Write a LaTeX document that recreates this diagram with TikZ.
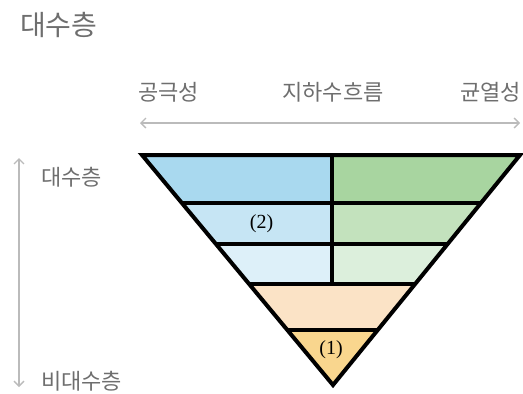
\documentclass[tikz,border=0pt]{standalone}
\usepackage{fontspec}
\newfontfamily\kr{Noto Sans CJK KR}
\setmainfont{Liberation Serif}
\usetikzlibrary{calc,arrows.meta}
\definecolor{txtgray}{HTML}{6E6E6E}
\definecolor{arrgray}{HTML}{BBBBBB}
\definecolor{b1}{HTML}{A9D9EF}
\definecolor{g1}{HTML}{A8D5A0}
\definecolor{b2}{HTML}{C6E5F4}
\definecolor{g2}{HTML}{C3E2BD}
\definecolor{b3}{HTML}{DDF0F9}
\definecolor{g3}{HTML}{DCEFDC}
\definecolor{or1}{HTML}{FBE3C6}
\definecolor{ye1}{HTML}{F9D68E}
\tikzset{
  lbl/.style={font=\kr\fontsize{22}{24}\selectfont, text=txtgray, inner sep=0pt},
  title/.style={font=\kr\fontsize{28}{30}\selectfont, text=txtgray, inner sep=0pt},
  num/.style={font=\fontsize{20}{22}\selectfont, inner sep=0pt},
  garrow/.style={draw=arrgray, line width=1.4pt, {Straight Barb[length=5pt,width=10pt]}-{Straight Barb[length=5pt,width=10pt]}},
  edge/.style={line width=4pt, black},
}
\begin{document}
\begin{tikzpicture}[x=1pt,y=-1pt]
\useasboundingbox (0,0) rectangle (523,394);
% triangle corners
\coordinate (L) at (142,155);
\coordinate (R) at (520,155);
\coordinate (A) at (333,385);
\coordinate (M0) at (332,155);
% band boundaries
\coordinate (L1) at ($(L)!0.2087!(A)$); \coordinate (R1) at ($(R)!0.2087!(A)$);
\coordinate (L2) at ($(L)!0.387!(A)$);  \coordinate (R2) at ($(R)!0.387!(A)$);
\coordinate (L3) at ($(L)!0.561!(A)$);  \coordinate (R3) at ($(R)!0.561!(A)$);
\coordinate (L4) at ($(L)!0.761!(A)$);  \coordinate (R4) at ($(R)!0.761!(A)$);
\coordinate (M1) at (332,203);
\coordinate (M2) at (332,244);
\coordinate (M3) at (332,284);
% fills
\fill[b1] (L) -- (M0) -- (M1) -- (L1) -- cycle;
\fill[g1] (M0) -- (R) -- (R1) -- (M1) -- cycle;
\fill[b2] (L1) -- (M1) -- (M2) -- (L2) -- cycle;
\fill[g2] (M1) -- (R1) -- (R2) -- (M2) -- cycle;
\fill[b3] (L2) -- (M2) -- (M3) -- (L3) -- cycle;
\fill[g3] (M2) -- (R2) -- (R3) -- (M3) -- cycle;
\fill[or1] (L3) -- (R3) -- (R4) -- (L4) -- cycle;
\fill[ye1] (L4) -- (R4) -- (A) -- cycle;
% lines
\draw[edge] (L1) -- (R1);
\draw[edge] (L2) -- (R2);
\draw[edge] (L3) -- (R3);
\draw[edge] (L4) -- (R4);
\draw[edge] (M0) -- (M3);
\draw[edge] (L) -- (R) -- (A) -- cycle;
% numbers
\node[num] (n2) at (261.5,224) {(2)};
\node[num] (n1) at (331,350) {(1)};
% title
\node[title, anchor=west] (t) at (20,25) {대수층};
% top labels
\node[lbl, anchor=west] (p) at (138,92) {공극성};
\node[lbl] (gw) at (333,92) {지하수흐름};
\node[lbl, anchor=east] (f) at (521,92) {균열성};
\coordinate (ha) at (140,123);
\coordinate (hb) at (520,123);
\draw[garrow] (ha) -- (hb);
% left labels
\coordinate (va) at (19,158);
\coordinate (vb) at (19,387);
\draw[garrow] (va) -- (vb);
\node[lbl, anchor=west] (aq) at (41,177) {대수층};
\node[lbl, anchor=west] (naq) at (41,381) {비대수층};
\end{tikzpicture}
\end{document}
